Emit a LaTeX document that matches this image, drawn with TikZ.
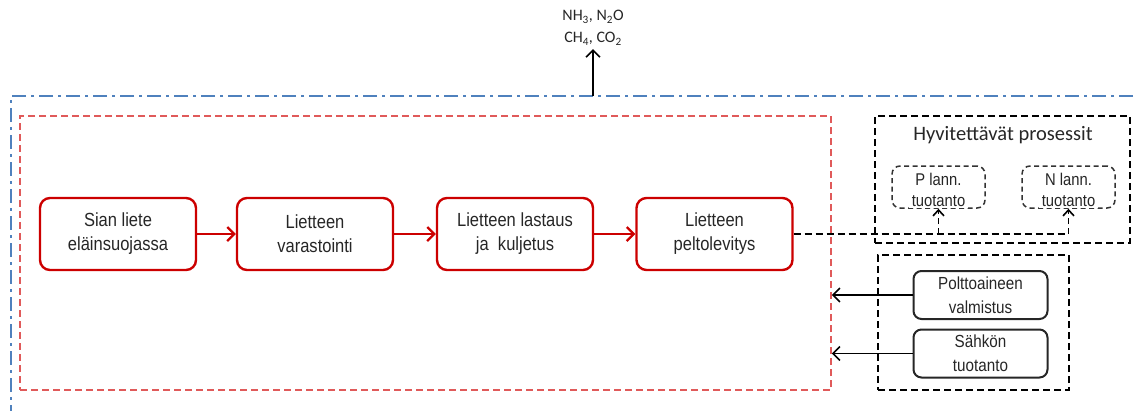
\documentclass[tikz,border=0pt]{standalone}
\usepackage{fontspec}
\setmainfont{Liberation Sans}
\newfontfamily\narrowf[FakeStretch=0.87]{Liberation Sans}
\newfontfamily\calib{Carlito}
\usetikzlibrary{arrows.meta}
\definecolor{blueline}{RGB}{79,129,189}
\definecolor{redbox}{RGB}{204,0,0}
\definecolor{reddash}{RGB}{224,90,90}
\definecolor{txt}{RGB}{38,38,38}
\begin{document}
\begin{tikzpicture}[x=1pt,y=-1pt,
  redstep/.style={draw=redbox,line width=2.4pt,rounded corners=10pt,minimum width=156pt,minimum height=72pt,inner sep=0pt,align=center,text=txt,font=\narrowf\fontsize{19}{24}\selectfont},
  greystep/.style={draw=black!85,line width=2pt,rounded corners=8pt,minimum width=134pt,minimum height=48pt,inner sep=0pt,align=center,text=txt,font=\narrowf\fontsize{17.5}{24}\selectfont},
  smallstep/.style={draw=black!80,line width=1.5pt,dash pattern=on 5pt off 3.5pt,rounded corners=8pt,minimum width=93pt,minimum height=42pt,inner sep=0pt},
  smalltext/.style={fill=white,inner xsep=3pt,inner ysep=1pt,align=center,text=txt,font=\narrowf\fontsize{17}{21}\selectfont},
  redarrow/.style={draw=redbox,line width=2.4pt,-{Straight Barb[length=7pt,width=14pt,line width=2.2pt]}},
  blackarrow/.style={draw=black,line width=1.6pt,-{Straight Barb[length=7pt,width=14pt,line width=1.6pt]}},
  blackdash/.style={draw=black,line width=1.8pt,dash pattern=on 7pt off 4pt}
]
\useasboundingbox (0,0) rectangle (1140,410);
% outer blue dash-dot frame
\draw[blueline,line width=1.3pt,dash pattern=on 14pt off 5pt on 3pt off 5pt] (1133,96) -- (11,96) -- (11,412);
\coordinate (gasbase) at (593,96);
% red dashed frame
\node[draw=reddash,line width=1.5pt,dash pattern=on 7pt off 4pt,minimum width=811pt,minimum height=274pt,inner sep=0pt] (frame) at (425.5,253) {};
% main chain
\node[redstep] (b1) at (118,234) {Sian liete\\eläinsuojassa};
\node[redstep] (b2) at (315,234) {Lietteen\\varastointi};
\node[redstep] (b3) at (515,234) {Lietteen lastaus\\ja \ kuljetus};
\node[redstep] (b4) at (714.5,234) {Lietteen\\peltolevitys};
\draw[redarrow] (b1) -- (b2);
\draw[redarrow] (b2) -- (b3);
\draw[redarrow] (b3) -- (b4);
% gases
\node[align=center,text=txt,font=\calib\fontsize{16}{22}\selectfont] (gas) at (593,28) {NH\textsubscript{3}, N\textsubscript{2}O\\CH\textsubscript{4}, CO\textsubscript{2}};
\draw[blackarrow] (gasbase) -- (gas.south);
% credited processes
\node[blackdash,minimum width=255pt,minimum height=127pt,inner sep=0pt] (hyv) at (1002.5,179.5) {};
\node[text=txt,font=\calib\fontsize{20.5}{24}\selectfont] (hyvt) at (1003,135) {Hyvitettävät prosessit};
\node[smallstep] (pl) at (938.5,187) {};
\node[smallstep] (nl) at (1068.5,187) {};
\node[smalltext] (plt) at (938.5,190) {P lann.\\tuotanto};
\node[smalltext] (nlt) at (1068.5,190) {N lann.\\tuotanto};
\draw[blackdash] (b4.east) -- (b4.east -| nl.south);
\draw[draw=black,line width=1.6pt,dash pattern=on 6pt off 4pt,-{Straight Barb[length=6pt,width=11pt,line width=1.6pt]}] (b4.east -| pl.south) -- (pl.south);
\draw[draw=black,line width=1.6pt,dash pattern=on 6pt off 4pt,-{Straight Barb[length=6pt,width=11pt,line width=1.6pt]}] (b4.east -| nl.south) -- (nl.south);
% energy inputs
\node[blackdash,minimum width=191pt,minimum height=135pt,inner sep=0pt] (energy) at (973.5,322.5) {};
\node[greystep] (polt) at (980.5,295) {Polttoaineen\\valmistus};
\node[greystep] (sahko) at (980.5,353.5) {Sähkön\\tuotanto};
\draw[blackarrow] (polt.west) -- (polt.west -| frame.east);
\draw[blackarrow] (sahko.west) -- (sahko.west -| frame.east);
\end{tikzpicture}
\end{document}
